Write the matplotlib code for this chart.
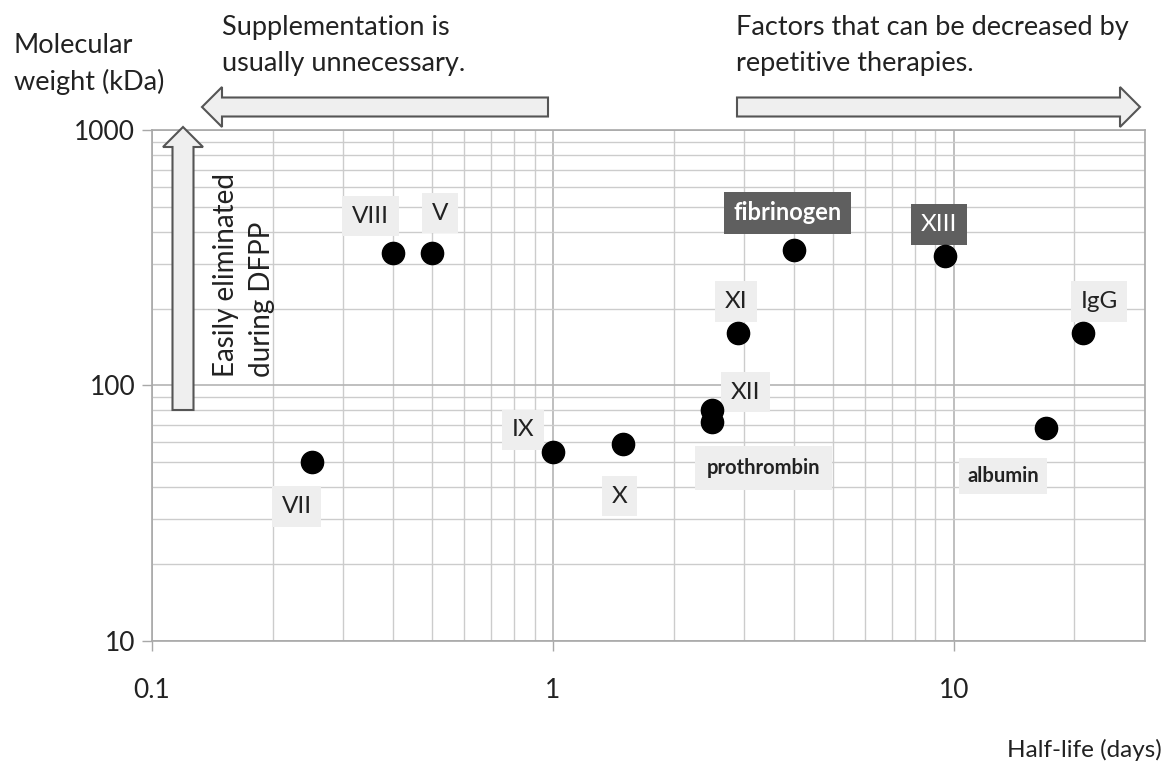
import matplotlib
matplotlib.use("Agg")
import matplotlib.pyplot as plt
from matplotlib.transforms import Affine2D
from matplotlib.patches import FancyArrow
from matplotlib.ticker import FixedLocator, LogLocator, NullFormatter

plt.rcParams['font.family'] = ['Lato', 'DejaVu Sans']

# Plasma proteins: half-life (days) vs molecular weight (kDa)
proteins = ["VII", "VIII", "V", "IX", "X", "XII", "prothrombin",
            "XI", "fibrinogen", "XIII", "albumin", "IgG"]
half_life = [0.25, 0.4, 0.5, 1.0, 1.5, 2.5, 2.5, 2.9, 4.0, 9.5, 17, 21]
mol_weight = [50, 330, 330, 55, 59, 80, 72, 160, 340, 320, 68, 160]

x_ticks = [0.1, 1, 10]
x_tick_labels = ["0.1", "1", "10"]
y_ticks = [10, 100, 1000]
y_tick_labels = ["10", "100", "1000"]

W, H = 1166, 773
fig = plt.figure(figsize=(W / 100, H / 100), dpi=100)
ax = fig.add_axes([152 / W, 1 - 641 / H, (1145 - 152) / W, (641 - 130) / H])

# pixel coordinates on the figure, origin top-left
px = Affine2D().scale(1 / W, -1 / H).translate(0, 1) + fig.transFigure

ax.set_xscale('log')
ax.set_yscale('log')
ax.set_xlim(0.1, 30)
ax.set_ylim(10, 1000)

ax.xaxis.set_major_locator(FixedLocator(x_ticks))
ax.xaxis.set_ticklabels(x_tick_labels)
ax.yaxis.set_major_locator(FixedLocator(y_ticks))
ax.yaxis.set_ticklabels(y_tick_labels)
for axis in (ax.xaxis, ax.yaxis):
    axis.set_minor_locator(LogLocator(base=10, subs=range(2, 10)))
    axis.set_minor_formatter(NullFormatter())

ax.grid(True, which='major', color='#b4b4b4', lw=1.2)
ax.grid(True, which='minor', color='#cccccc', lw=1.0)
ax.set_axisbelow(True)
for s in ax.spines.values():
    s.set_color('#a8a8a8')
    s.set_linewidth(1.2)
ax.tick_params(which='major', direction='out', length=7, width=1, color='#a8a8a8',
               labelsize=19, labelcolor='#222222')
ax.tick_params(axis='x', which='major', pad=20)
ax.tick_params(axis='y', which='major', pad=5)
ax.tick_params(which='minor', length=0)

ax.plot(half_life, mol_weight, 'o', color='black', ms=16, zorder=5, clip_on=False)

# label placement: offset in pixels from the marker to the label centre
label_offsets = {
    "VII": (-15, -44), "VIII": (-23, 37), "V": (8, 40), "IX": (-30, 22),
    "X": (-4, -52), "XII": (33, 18), "prothrombin": (51, -46), "XI": (-2, 32),
    "fibrinogen": (-7, 37), "XIII": (-6, 32), "albumin": (-43, -48), "IgG": (16, 32),
}
dark_labels = {"fibrinogen", "XIII"}
small_bold = {"prothrombin", "albumin"}

for name, x, y in zip(proteins, half_life, mol_weight):
    dx, dy = label_offsets[name]
    if name in dark_labels:
        fc, tc = '#5f5f5f', 'white'
    else:
        fc, tc = '#eeeeee', '#222222'
    weight = 'bold' if name in small_bold or name == "fibrinogen" else 'normal'
    size = 14.5 if name in small_bold else (17 if name == "fibrinogen" else 17.5)
    pad = 0.6 if name == "prothrombin" else 0.4
    ax.annotate(name, (x, y), xytext=(dx, dy), textcoords='offset pixels',
                ha='center', va='center', fontsize=size, color=tc, fontweight=weight,
                bbox=dict(boxstyle=f'square,pad={pad}', fc=fc, ec='none'), zorder=4)

# hollow block arrows
arrow_style = dict(fc='#efefef', ec='#555555', lw=1.5, length_includes_head=True,
                   transform=px, zorder=6)
fig.add_artist(FancyArrow(548, 107, -346, 0, width=19, head_width=40,
                          head_length=20, **arrow_style))
fig.add_artist(FancyArrow(737, 107, 403, 0, width=19, head_width=40,
                          head_length=20, **arrow_style))
fig.add_artist(FancyArrow(183, 410, 0, -283, width=21, head_width=40,
                          head_length=20, **arrow_style))

txt = dict(transform=px, fontsize=19.5, color='#222222', linespacing=1.55)
fig.text(14, 64, "Molecular\nweight (kDa)", ha='left', va='center', **txt)
fig.text(222, 46, "Supplementation is\nusually unnecessary.", ha='left', va='center', **txt)
fig.text(736, 46, "Factors that can be decreased by\nrepetitive therapies.",
         ha='left', va='center', **txt)
fig.text(1162, 750, "Half-life (days)", ha='right', va='center', transform=px,
         fontsize=17.5, color='#222222')
fig.text(244, 275, "Easily eliminated\nduring DFPP", ha='center', va='center',
         rotation=90, multialignment='left', transform=px, fontsize=20,
         color='#222222', linespacing=1.5)

fig.savefig("out.png", dpi=100)
